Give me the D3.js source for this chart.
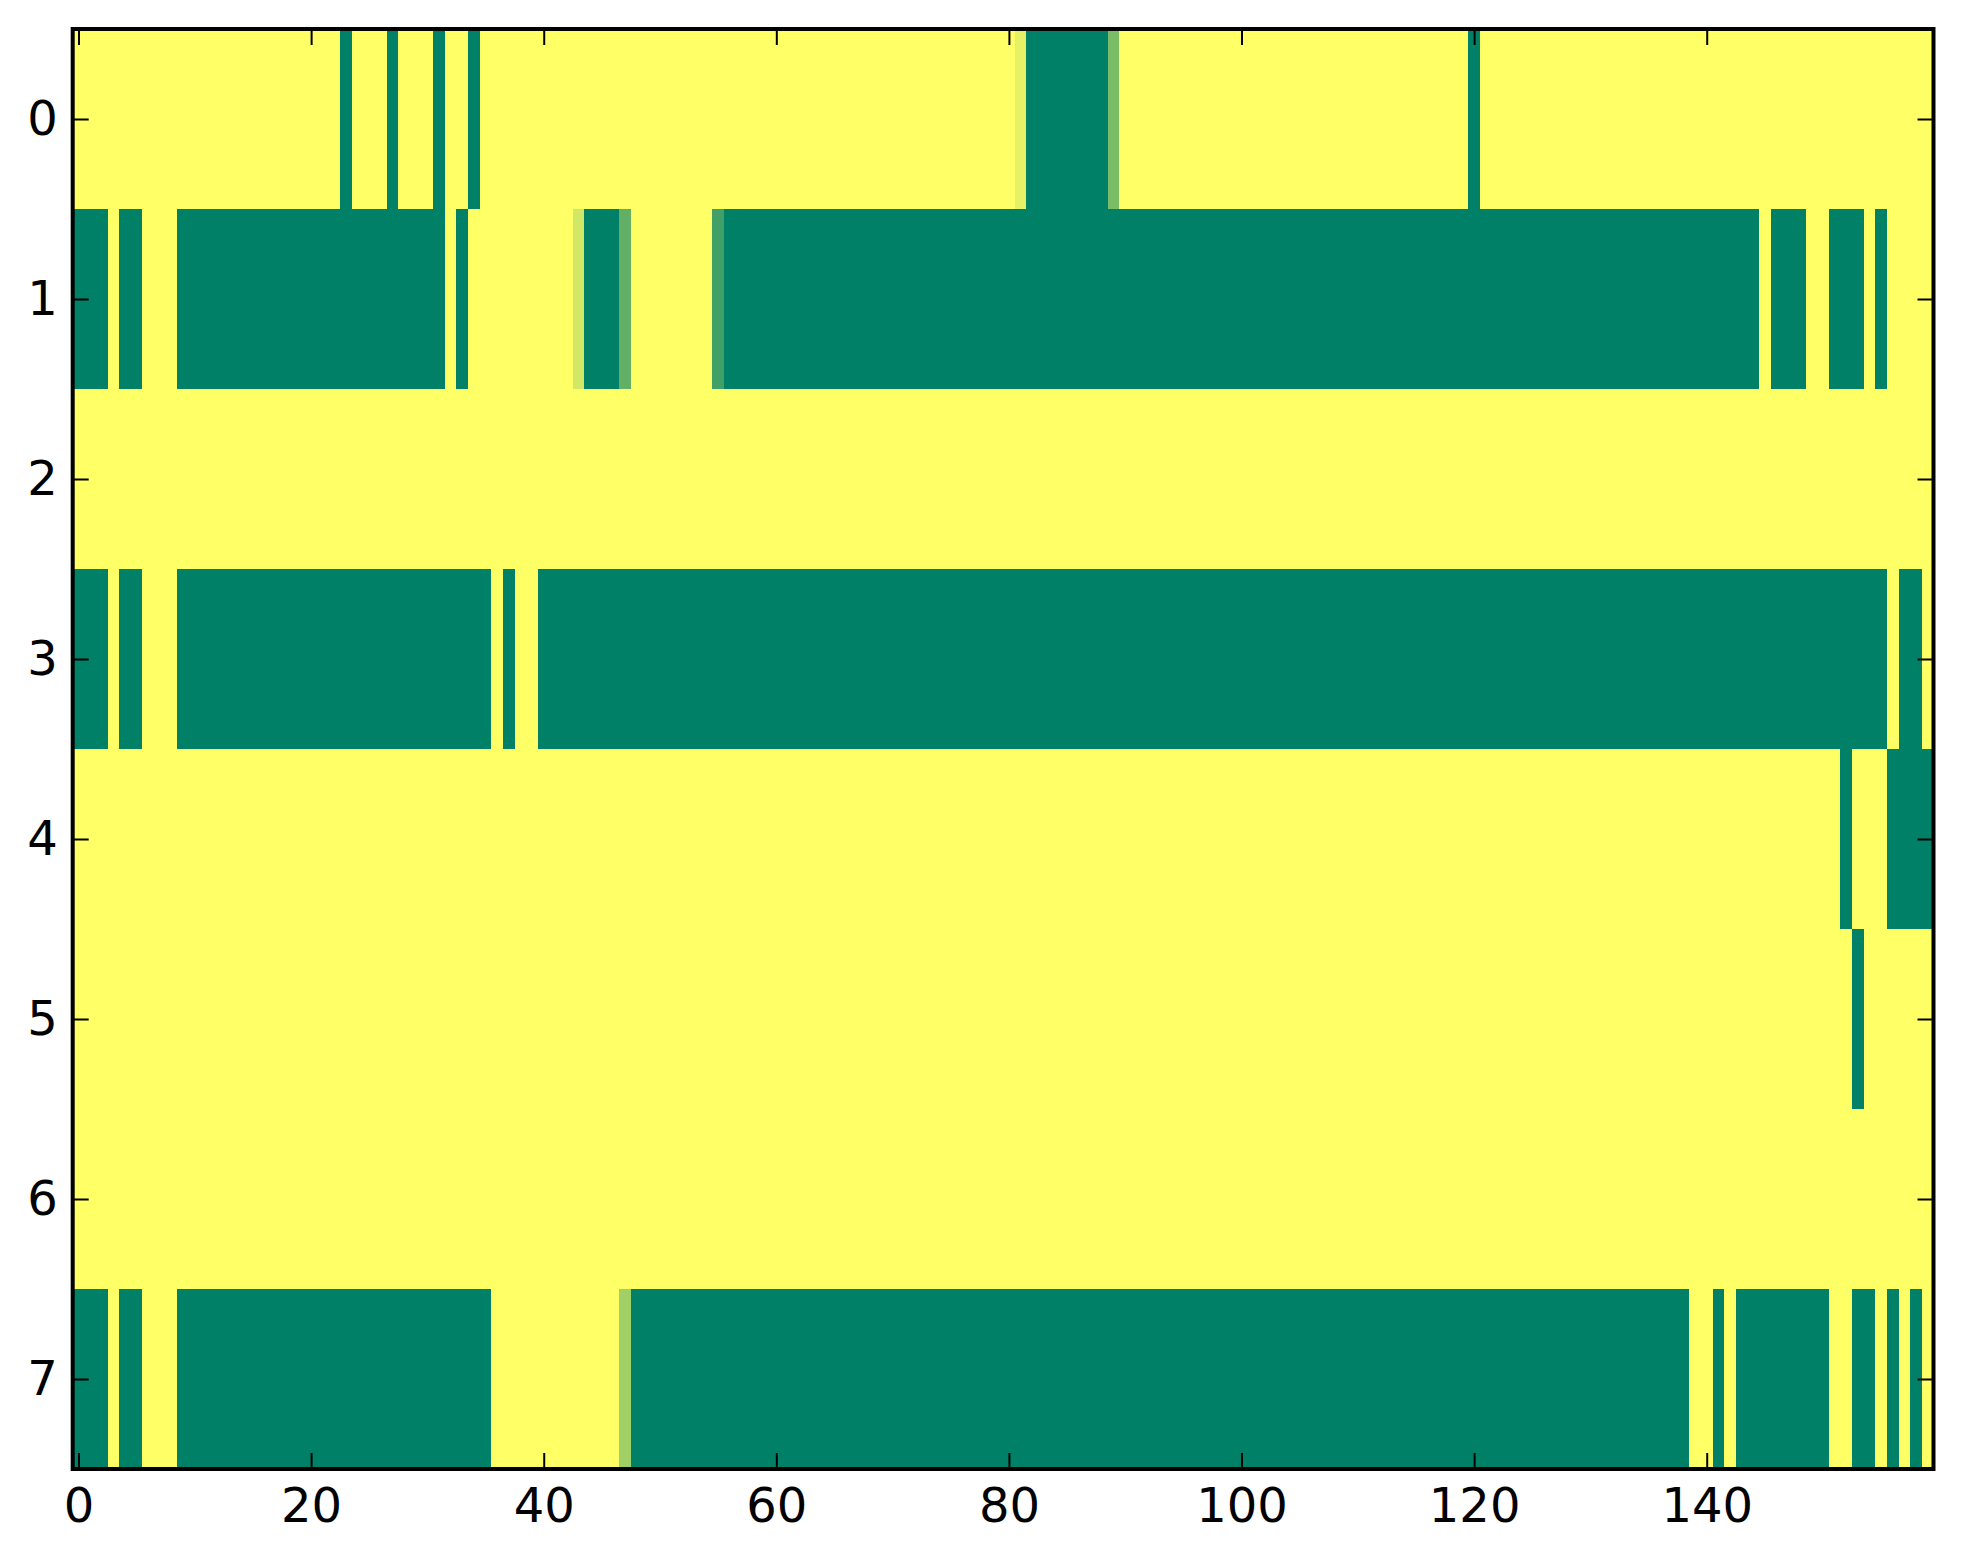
<!DOCTYPE html>
<html lang="en">
<head>
  <meta charset="UTF-8" />
  <title>Heatmap - summer colormap</title>
  <script src="https://d3js.org/d3.v7.min.js"></script>
  <style>
    body {
      margin: 0;
      background-color: white;
    }

    svg {
      display: block;
      background-color: white;
    }

    .axis text {
      font-family: "DejaVu Sans", sans-serif;
      font-size: 48px;
      fill: black;
    }

    .axis line {
      stroke: black;
      stroke-width: 2px;
    }

    .axis path {
      display: none;
    }
  </style>
</head>
<body>
  <svg width="1963" height="1564"></svg>

  <script>
    // cell values, one array per row (0 = green, 1 = yellow)
    const row0 = [
      1,1,1,1,1,1,1,1,1,1, 1,1,1,1,1,1,1,1,1,1, 1,1,1,0,1,1,1,0,1,1, 1,0,1,1,0,1,1,1,1,1,
      1,1,1,1,1,1,1,1,1,1, 1,1,1,1,1,1,1,1,1,1, 1,1,1,1,1,1,1,1,1,1, 1,1,1,1,1,1,1,1,1,1,
      1,0.9,0,0,0,0,0,0,0,0.48, 1,1,1,1,1,1,1,1,1,1, 1,1,1,1,1,1,1,1,1,1, 1,1,1,1,1,1,1,1,1,1,
      0,1,1,1,1,1,1,1,1,1, 1,1,1,1,1,1,1,1,1,1, 1,1,1,1,1,1,1,1,1,1, 1,1,1,1,1,1,1,1,1,1
    ];
    const row1 = [
      0,0,0,1,0,0,1,1,1,0, 0,0,0,0,0,0,0,0,0,0, 0,0,0,0,0,0,0,0,0,0, 0,0,1,0,1,1,1,1,1,1,
      1,1,1,0.82,0,0,0,0.38,1,1, 1,1,1,1,1,0.25,0,0,0,0, 0,0,0,0,0,0,0,0,0,0, 0,0,0,0,0,0,0,0,0,0,
      0,0,0,0,0,0,0,0,0,0, 0,0,0,0,0,0,0,0,0,0, 0,0,0,0,0,0,0,0,0,0, 0,0,0,0,0,0,0,0,0,0,
      0,0,0,0,0,0,0,0,0,0, 0,0,0,0,0,0,0,0,0,0, 0,0,0,0,0,1,0,0,0,1, 1,0,0,0,1,0,1,1,1,1
    ];
    const row2 = [
      1,1,1,1,1,1,1,1,1,1, 1,1,1,1,1,1,1,1,1,1, 1,1,1,1,1,1,1,1,1,1, 1,1,1,1,1,1,1,1,1,1,
      1,1,1,1,1,1,1,1,1,1, 1,1,1,1,1,1,1,1,1,1, 1,1,1,1,1,1,1,1,1,1, 1,1,1,1,1,1,1,1,1,1,
      1,1,1,1,1,1,1,1,1,1, 1,1,1,1,1,1,1,1,1,1, 1,1,1,1,1,1,1,1,1,1, 1,1,1,1,1,1,1,1,1,1,
      1,1,1,1,1,1,1,1,1,1, 1,1,1,1,1,1,1,1,1,1, 1,1,1,1,1,1,1,1,1,1, 1,1,1,1,1,1,1,1,1,1
    ];
    const row3 = [
      0,0,0,1,0,0,1,1,1,0, 0,0,0,0,0,0,0,0,0,0, 0,0,0,0,0,0,0,0,0,0, 0,0,0,0,0,0,1,0,1,1,
      0,0,0,0,0,0,0,0,0,0, 0,0,0,0,0,0,0,0,0,0, 0,0,0,0,0,0,0,0,0,0, 0,0,0,0,0,0,0,0,0,0,
      0,0,0,0,0,0,0,0,0,0, 0,0,0,0,0,0,0,0,0,0, 0,0,0,0,0,0,0,0,0,0, 0,0,0,0,0,0,0,0,0,0,
      0,0,0,0,0,0,0,0,0,0, 0,0,0,0,0,0,0,0,0,0, 0,0,0,0,0,0,0,0,0,0, 0,0,0,0,0,0,1,0,0,1
    ];
    const row4 = [
      1,1,1,1,1,1,1,1,1,1, 1,1,1,1,1,1,1,1,1,1, 1,1,1,1,1,1,1,1,1,1, 1,1,1,1,1,1,1,1,1,1,
      1,1,1,1,1,1,1,1,1,1, 1,1,1,1,1,1,1,1,1,1, 1,1,1,1,1,1,1,1,1,1, 1,1,1,1,1,1,1,1,1,1,
      1,1,1,1,1,1,1,1,1,1, 1,1,1,1,1,1,1,1,1,1, 1,1,1,1,1,1,1,1,1,1, 1,1,1,1,1,1,1,1,1,1,
      1,1,1,1,1,1,1,1,1,1, 1,1,1,1,1,1,1,1,1,1, 1,1,1,1,1,1,1,1,1,1, 1,1,0,1,1,1,0,0,0,0
    ];
    const row5 = [
      1,1,1,1,1,1,1,1,1,1, 1,1,1,1,1,1,1,1,1,1, 1,1,1,1,1,1,1,1,1,1, 1,1,1,1,1,1,1,1,1,1,
      1,1,1,1,1,1,1,1,1,1, 1,1,1,1,1,1,1,1,1,1, 1,1,1,1,1,1,1,1,1,1, 1,1,1,1,1,1,1,1,1,1,
      1,1,1,1,1,1,1,1,1,1, 1,1,1,1,1,1,1,1,1,1, 1,1,1,1,1,1,1,1,1,1, 1,1,1,1,1,1,1,1,1,1,
      1,1,1,1,1,1,1,1,1,1, 1,1,1,1,1,1,1,1,1,1, 1,1,1,1,1,1,1,1,1,1, 1,1,1,0,1,1,1,1,1,1
    ];
    const row6 = [
      1,1,1,1,1,1,1,1,1,1, 1,1,1,1,1,1,1,1,1,1, 1,1,1,1,1,1,1,1,1,1, 1,1,1,1,1,1,1,1,1,1,
      1,1,1,1,1,1,1,1,1,1, 1,1,1,1,1,1,1,1,1,1, 1,1,1,1,1,1,1,1,1,1, 1,1,1,1,1,1,1,1,1,1,
      1,1,1,1,1,1,1,1,1,1, 1,1,1,1,1,1,1,1,1,1, 1,1,1,1,1,1,1,1,1,1, 1,1,1,1,1,1,1,1,1,1,
      1,1,1,1,1,1,1,1,1,1, 1,1,1,1,1,1,1,1,1,1, 1,1,1,1,1,1,1,1,1,1, 1,1,1,1,1,1,1,1,1,1
    ];
    const row7 = [
      0,0,0,1,0,0,1,1,1,0, 0,0,0,0,0,0,0,0,0,0, 0,0,0,0,0,0,0,0,0,0, 0,0,0,0,0,0,1,1,1,1,
      1,1,1,1,1,1,1,0.63,0,0, 0,0,0,0,0,0,0,0,0,0, 0,0,0,0,0,0,0,0,0,0, 0,0,0,0,0,0,0,0,0,0,
      0,0,0,0,0,0,0,0,0,0, 0,0,0,0,0,0,0,0,0,0, 0,0,0,0,0,0,0,0,0,0, 0,0,0,0,0,0,0,0,0,0,
      0,0,0,0,0,0,0,0,0,0, 0,0,0,0,0,0,0,0,0,1, 1,0,1,0,0,0,0,0,0,0, 0,1,1,0,0,1,0,1,0,1
    ];
    const rows = [row0, row1, row2, row3, row4, row5, row6, row7];

    const xTicks = [0, 20, 40, 60, 80, 100, 120, 140];
    const yTicks = [0, 1, 2, 3, 4, 5, 6, 7];

    const svg = d3.select("svg");
    const plot = { left: 72.7, right: 1933.5, top: 29, bottom: 1469 };

    const x = d3.scaleLinear()
                .domain([-0.5, row0.length - 0.5])
                .range([plot.left, plot.right]);

    const y = d3.scaleLinear()
                .domain([-0.5, rows.length - 0.5])
                .range([plot.top, plot.bottom]);

    // matplotlib "summer": green -> yellow, linear in rgb
    const color = d3.scaleLinear()
                    .domain([0, 1])
                    .range(["#008066", "#ffff66"])
                    .interpolate(d3.interpolateRgb);

    const cells = [];
    rows.forEach((r, j) => r.forEach((v, i) => cells.push({ i, j, v })));

    svg.append("g")
       .selectAll("rect")
       .data(cells)
       .enter()
       .append("rect")
       .attr("x", d => x(d.i - 0.5))
       .attr("y", d => y(d.j - 0.5))
       .attr("width", d => x(d.i + 0.5) - x(d.i - 0.5) + 0.3)
       .attr("height", d => y(d.j + 0.5) - y(d.j - 0.5) + 0.3)
       .attr("fill", d => color(d.v))
       .attr("shape-rendering", "crispEdges");

    // ticks point inward on all four sides
    svg.append("g")
       .attr("class", "axis")
       .attr("transform", `translate(0,${plot.bottom})`)
       .call(d3.axisBottom(x).tickValues(xTicks).tickSizeInner(-16).tickSizeOuter(0).tickPadding(19));

    svg.append("g")
       .attr("class", "axis")
       .attr("transform", `translate(0,${plot.top})`)
       .call(d3.axisTop(x).tickValues(xTicks).tickSizeInner(-16).tickSizeOuter(0).tickFormat(""));

    svg.append("g")
       .attr("class", "axis")
       .attr("transform", `translate(${plot.left},0)`)
       .call(d3.axisLeft(y).tickValues(yTicks).tickSizeInner(-16).tickSizeOuter(0).tickPadding(15));

    svg.append("g")
       .attr("class", "axis")
       .attr("transform", `translate(${plot.right},0)`)
       .call(d3.axisRight(y).tickValues(yTicks).tickSizeInner(-16).tickSizeOuter(0).tickFormat(""));

    // frame
    svg.append("rect")
       .attr("x", plot.left)
       .attr("y", plot.top)
       .attr("width", plot.right - plot.left)
       .attr("height", plot.bottom - plot.top)
       .attr("fill", "none")
       .attr("stroke", "black")
       .attr("stroke-width", 4);
  </script>
</body>
</html>
